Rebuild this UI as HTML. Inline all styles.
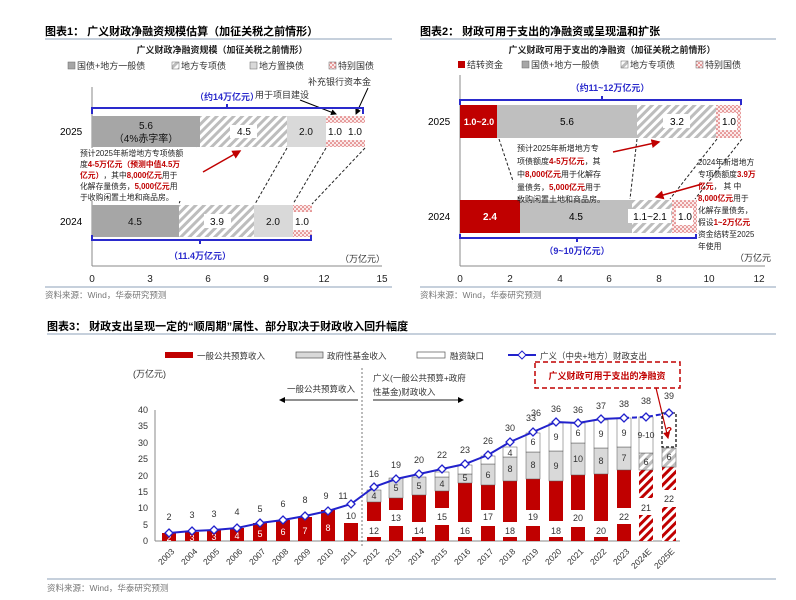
<!DOCTYPE html>
<html><head><meta charset="utf-8"><style>
body{margin:0;background:#fff}
svg{display:block;font-family:"Liberation Sans","Noto Sans CJK SC",sans-serif}
</style></head><body>
<svg width="796" height="600" viewBox="0 0 796 600" xmlns="http://www.w3.org/2000/svg">
<defs>
<pattern id="hg" width="6" height="6" patternUnits="userSpaceOnUse" patternTransform="rotate(45)"><rect width="6" height="6" fill="#fff"/><rect width="3" height="6" fill="#bdbdbd"/></pattern>
<pattern id="hr" width="6" height="6" patternUnits="userSpaceOnUse" patternTransform="rotate(45)"><rect width="6" height="6" fill="#fff"/><rect width="3" height="6" fill="#c00000"/></pattern>
<pattern id="dp" width="4" height="4" patternUnits="userSpaceOnUse"><rect width="4" height="4" fill="#fbeaea"/><circle cx="1" cy="1" r="0.8" fill="#d04040"/><circle cx="3" cy="3" r="0.8" fill="#d04040"/></pattern>
<marker id="ab" markerWidth="6" markerHeight="6" refX="5" refY="3" orient="auto"><path d="M0,0L6,3L0,6z" fill="#000"/></marker>
<marker id="ar" markerWidth="6" markerHeight="6" refX="5" refY="3" orient="auto"><path d="M0,0L6,3L0,6z" fill="#c00000"/></marker>
</defs>

<!-- ========== Chart 1 ========== -->
<text x="45" y="35" font-size="11" font-weight="bold">图表1： 广义财政净融资规模估算（加征关税之前情形）</text>
<line x1="45" y1="39" x2="392" y2="39" stroke="#8ea0b8" stroke-width="1"/>
<text x="222" y="53" font-size="9" text-anchor="middle" font-weight="bold" fill="#222">广义财政净融资规模（加征关税之前情形）</text>
<g font-size="9" fill="#333">
<rect x="68" y="62" width="7" height="7" fill="#a6a6a6" stroke="#666" stroke-width=".5"/><text x="77" y="69">国债+地方一般债</text>
<rect x="172" y="62" width="7" height="7" fill="url(#hg)" stroke="#666" stroke-width=".5"/><text x="181" y="69">地方专项债</text>
<rect x="250" y="62" width="7" height="7" fill="#d9d9d9" stroke="#666" stroke-width=".5"/><text x="259" y="69">地方置换债</text>
<rect x="329" y="62" width="7" height="7" fill="url(#dp)" stroke="#666" stroke-width=".5"/><text x="338" y="69">特别国债</text>
<text x="308" y="85">补充银行资本金</text>
<text x="255" y="98">用于项目建设</text>
</g>
<line x1="92" y1="87" x2="92" y2="266" stroke="#888"/>
<line x1="92" y1="266" x2="382" y2="266" stroke="#888"/>
<g font-size="10" fill="#222" text-anchor="middle">
<text x="92" y="282">0</text><text x="150" y="282">3</text><text x="208" y="282">6</text><text x="266" y="282">9</text><text x="324" y="282">12</text><text x="382" y="282">15</text>
</g>
<text x="340" y="262" font-size="9" fill="#333">（万亿元）</text>
<text x="60" y="135" font-size="10">2025</text>
<text x="60" y="225" font-size="10">2024</text>
<rect x="92" y="116" width="108" height="31" fill="#a6a6a6"/>
<rect x="200" y="116" width="87" height="31" fill="url(#hg)"/>
<rect x="287" y="116" width="39" height="31" fill="#d9d9d9"/>
<rect x="326" y="116" width="19" height="31" fill="url(#dp)"/><rect x="326" y="123" width="19" height="17" fill="#fff"/>
<rect x="345" y="116" width="20" height="31" fill="url(#dp)"/><rect x="345" y="123" width="20" height="17" fill="#fff"/>
<g font-size="10" text-anchor="middle" fill="#111">
<text x="146" y="129">5.6</text><text x="146" y="142">（4%赤字率）</text>
<rect x="230" y="125" width="27" height="13" fill="#fff"/><text x="244" y="135">4.5</text>
<text x="306" y="135">2.0</text><text x="335" y="135">1.0</text><text x="355" y="135">1.0</text>
</g>
<rect x="92" y="205" width="87" height="32" fill="#a6a6a6"/>
<rect x="179" y="205" width="75" height="32" fill="url(#hg)"/>
<rect x="254" y="205" width="39" height="32" fill="#d9d9d9"/>
<rect x="293" y="205" width="19" height="32" fill="url(#dp)"/><rect x="293" y="212" width="19" height="18" fill="#fff"/>
<g font-size="10" text-anchor="middle" fill="#111">
<text x="135" y="225">4.5</text>
<rect x="204" y="214" width="27" height="14" fill="#fff"/><text x="217" y="225">3.9</text>
<text x="273" y="225">2.0</text><text x="302" y="225">1.0</text>
</g>
<g stroke="#222" stroke-dasharray="3,2" fill="none">
<line x1="197" y1="148" x2="179" y2="204"/><line x1="287" y1="148" x2="255" y2="204"/>
<line x1="326" y1="148" x2="293" y2="204"/><line x1="365" y1="148" x2="312" y2="204"/>
</g>
<line x1="300" y1="100" x2="336" y2="114" stroke="#000" marker-end="url(#ab)"/>
<line x1="368" y1="88" x2="356" y2="114" stroke="#000" marker-end="url(#ab)"/>
<path d="M92,114V108H363V114M227,108V104" stroke="#2a2acc" stroke-width="2" fill="none"/>
<text x="227" y="100" font-size="9" fill="#2a2acc" text-anchor="middle" font-weight="bold">（约14万亿元）</text>
<path d="M92,235V240H311V235M200,240V244" stroke="#2a2acc" stroke-width="2" fill="none"/>
<text x="200" y="259" font-size="9" fill="#2a2acc" text-anchor="middle" font-weight="bold">（11.4万亿元）</text>
<rect x="78" y="148" width="120" height="53" fill="#fff"/>
<g font-size="7.8" fill="#222">
<text x="80" y="156">预计2025年新增地方专项债额</text>
<text x="80" y="167">度<tspan fill="#c00000" font-weight="bold">4-5万亿元（预测中值4.5万</tspan></text>
<text x="80" y="178"><tspan fill="#c00000" font-weight="bold">亿元）</tspan>，其中<tspan fill="#c00000" font-weight="bold">8,000亿元</tspan>用于</text>
<text x="80" y="189">化解存量债务，<tspan fill="#c00000" font-weight="bold">5,000亿元</tspan>用</text>
<text x="80" y="200">于收购闲置土地和商品房。</text>
</g>
<line x1="203" y1="172" x2="240" y2="151" stroke="#c00000" stroke-width="1.5" marker-end="url(#ar)"/>
<line x1="45" y1="287" x2="392" y2="287" stroke="#8ea0b8"/>
<text x="45" y="298" font-size="8.5" fill="#777">资料来源：Wind，华泰研究预测</text>

<!-- ========== Chart 2 ========== -->
<text x="420" y="35" font-size="11" font-weight="bold">图表2： 财政可用于支出的净融资或呈现温和扩张</text>
<line x1="420" y1="39" x2="776" y2="39" stroke="#8ea0b8"/>
<text x="612" y="53" font-size="9" text-anchor="middle" font-weight="bold" fill="#222">广义财政可用于支出的净融资（加征关税之前情形）</text>
<g font-size="9" fill="#333">
<rect x="458" y="61" width="7" height="7" fill="#c00000"/><text x="467" y="68">结转资金</text>
<rect x="522" y="61" width="7" height="7" fill="#a6a6a6" stroke="#666" stroke-width=".5"/><text x="531" y="68">国债+地方一般债</text>
<rect x="621" y="61" width="7" height="7" fill="url(#hg)" stroke="#666" stroke-width=".5"/><text x="630" y="68">地方专项债</text>
<rect x="696" y="61" width="7" height="7" fill="url(#dp)" stroke="#666" stroke-width=".5"/><text x="705" y="68">特别国债</text>
</g>
<line x1="460" y1="75" x2="460" y2="266" stroke="#888"/>
<line x1="460" y1="266" x2="765" y2="266" stroke="#888"/>
<g font-size="10" fill="#222" text-anchor="middle">
<text x="460" y="282">0</text><text x="510" y="282">2</text><text x="560" y="282">4</text><text x="609" y="282">6</text><text x="659" y="282">8</text><text x="709" y="282">10</text><text x="759" y="282">12</text>
</g>
<text x="735" y="261" font-size="9" fill="#333">（万亿元</text>
<text x="428" y="125" font-size="10">2025</text>
<text x="428" y="220" font-size="10">2024</text>
<rect x="460" y="105" width="37" height="33" fill="#c00000"/>
<rect x="497" y="105" width="140" height="33" fill="#bfbfbf"/>
<rect x="637" y="105" width="79" height="33" fill="url(#hg)"/>
<rect x="716" y="105" width="25" height="33" fill="url(#dp)"/><rect x="720" y="113" width="17" height="17" fill="#fff"/>
<g font-size="10" text-anchor="middle">
<text x="479" y="125" fill="#fff" font-weight="bold" font-size="9">1.0~2.0</text>
<text x="567" y="125">5.6</text>
<rect x="663" y="114" width="27" height="14" fill="#fff"/><text x="677" y="125">3.2</text>
<text x="729" y="125">1.0</text>
</g>
<rect x="460" y="200" width="60" height="33" fill="#c00000"/>
<rect x="520" y="200" width="112" height="33" fill="#bfbfbf"/>
<rect x="632" y="200" width="40" height="33" fill="url(#hg)"/>
<rect x="672" y="200" width="25" height="33" fill="url(#dp)"/><rect x="676" y="208" width="17" height="17" fill="#fff"/>
<g font-size="10" text-anchor="middle">
<text x="490" y="220" fill="#fff" font-weight="bold">2.4</text>
<text x="576" y="220">4.5</text>
<rect x="628" y="209" width="43" height="14" fill="#fff"/><text x="650" y="220">1.1~2.1</text>
<text x="685" y="220">1.0</text>
</g>
<g stroke="#222" stroke-dasharray="3,2" fill="none">
<line x1="499" y1="139" x2="519" y2="199"/><line x1="637" y1="139" x2="630" y2="199"/>
<line x1="717" y1="139" x2="670" y2="199"/><line x1="742" y1="139" x2="695" y2="199"/>
</g>
<path d="M460,105V100H741V105M602,100V96" stroke="#2a2acc" stroke-width="2" fill="none"/>
<text x="610" y="91" font-size="9" fill="#2a2acc" text-anchor="middle" font-weight="bold">（约11~12万亿元）</text>
<path d="M460,234V238H696V234M577,238V242" stroke="#2a2acc" stroke-width="2" fill="none"/>
<text x="577" y="254" font-size="9" fill="#2a2acc" text-anchor="middle" font-weight="bold">（9~10万亿元）</text>
<rect x="513" y="141" width="100" height="56" fill="#fff"/>
<g font-size="8" fill="#222">
<text x="517" y="151">预计2025年新增地方专</text>
<text x="517" y="164">项债额度<tspan fill="#c00000" font-weight="bold">4-5万亿元</tspan>，其</text>
<text x="517" y="177">中<tspan fill="#c00000" font-weight="bold">8,000亿元</tspan>用于化解存</text>
<text x="517" y="190">量债务，<tspan fill="#c00000" font-weight="bold">5,000亿元</tspan>用于</text>
<text x="517" y="202">收购闲置土地和商品房。</text>
</g>
<g font-size="7.8" fill="#222">
<text x="698" y="165">2024年新增地方</text>
<text x="698" y="177">专项债额度<tspan fill="#c00000" font-weight="bold">3.9万</tspan></text>
<text x="698" y="189"><tspan fill="#c00000" font-weight="bold">亿元</tspan>， 其 中</text>
<text x="698" y="201"><tspan fill="#c00000" font-weight="bold">8,000亿元</tspan>用于</text>
<text x="698" y="213">化解存量债务，</text>
<text x="698" y="225">假设<tspan fill="#c00000" font-weight="bold">1~2万亿元</tspan></text>
<text x="698" y="237">资金结转至2025</text>
<text x="698" y="249">年使用</text>
</g>
<line x1="613" y1="152" x2="659" y2="142" stroke="#c00000" stroke-width="1.5" marker-end="url(#ar)"/>
<line x1="702" y1="184" x2="656" y2="197" stroke="#c00000" stroke-width="1.5" marker-end="url(#ar)"/>
<line x1="420" y1="287" x2="776" y2="287" stroke="#8ea0b8"/>
<text x="420" y="298" font-size="8.5" fill="#777">资料来源：Wind，华泰研究预测</text>

<!-- ========== Chart 3 ========== -->
<text x="47" y="330" font-size="11" font-weight="bold">图表3： 财政支出呈现一定的“顺周期”属性、部分取决于财政收入回升幅度</text>
<line x1="47" y1="334" x2="776" y2="334" stroke="#8ea0b8"/>
<g font-size="8.5" fill="#333">
<rect x="165" y="352" width="28" height="6" fill="#c00000"/><text x="197" y="359">一般公共预算收入</text>
<rect x="296" y="352" width="27" height="6" fill="#d9d9d9" stroke="#555" stroke-width=".7"/><text x="327" y="359">政府性基金收入</text>
<rect x="417" y="352" width="28" height="6" fill="#fff" stroke="#555" stroke-width=".7"/><text x="450" y="359">融资缺口</text>
<line x1="508" y1="355" x2="536" y2="355" stroke="#2222cc" stroke-width="2"/><path d="M522,351L526,355L522,359L518,355z" fill="#fff" stroke="#2222cc"/><text x="540" y="359">广义（中央+地方）财政支出</text>
<text x="133" y="377" font-size="9">(万亿元)</text>
<text x="355" y="392" text-anchor="end">一般公共预算收入</text>
<text x="373" y="381">广义(一般公共预算+政府</text>
<text x="373" y="395">性基金)财政收入</text>
</g>
<line x1="358" y1="400" x2="280" y2="400" stroke="#222" marker-end="url(#ab)"/>
<line x1="373" y1="400" x2="463" y2="400" stroke="#222" marker-end="url(#ab)"/>
<line x1="362" y1="368" x2="362" y2="548" stroke="#777" stroke-dasharray="2,2"/>
<rect x="535" y="362" width="145" height="26" fill="none" stroke="#c00000" stroke-width="1.5" stroke-dasharray="5,3"/>
<text x="607" y="379" font-size="9" fill="#c00000" font-weight="bold" text-anchor="middle">广义财政可用于支出的净融资</text>
<line x1="656" y1="388" x2="668" y2="438" stroke="#c00000" stroke-width="1.2" marker-end="url(#ar)"/>
<line x1="155" y1="410" x2="155" y2="541" stroke="#888"/>
<line x1="155" y1="541" x2="680" y2="541" stroke="#888"/>
<g font-size="9" fill="#333" text-anchor="end">
<text x="148" y="544">0</text><text x="148" y="528">5</text><text x="148" y="511">10</text><text x="148" y="495">15</text><text x="148" y="479">20</text><text x="148" y="462">25</text><text x="148" y="446">30</text><text x="148" y="429">35</text><text x="148" y="413">40</text>
</g>
<g fill="#c00000">
<rect x="162" y="533" width="14" height="8"/><rect x="185" y="532" width="14" height="9"/><rect x="207" y="530" width="14" height="11"/><rect x="230" y="528" width="14" height="13"/><rect x="253" y="523" width="14" height="18"/><rect x="276" y="520" width="14" height="21"/><rect x="298" y="517" width="14" height="24"/><rect x="321" y="510" width="14" height="31"/><rect x="344" y="523" width="14" height="18"/>
</g>
<g font-size="9" fill="#fff" text-anchor="middle">
<text x="169" y="541">2</text><text x="192" y="541">3</text><text x="214" y="540">3</text><text x="237" y="539">4</text><text x="260" y="537">5</text><text x="283" y="535">6</text><text x="305" y="534">7</text><text x="328" y="531">8</text>
</g>
<g stroke="#555" stroke-width=".5">
<rect x="367" y="537" width="14" height="4" fill="#c00000" stroke="none"/><rect x="367" y="502" width="14" height="19" fill="#c00000" stroke="none"/><rect x="367" y="490" width="14" height="12" fill="#d9d9d9"/>
<rect x="389" y="526" width="14" height="15" fill="#c00000" stroke="none"/><rect x="389" y="498" width="14" height="12" fill="#c00000" stroke="none"/><rect x="389" y="478" width="14" height="20" fill="#d9d9d9"/>
<rect x="412" y="537" width="14" height="4" fill="#c00000" stroke="none"/><rect x="412" y="495" width="14" height="27" fill="#c00000" stroke="none"/><rect x="412" y="477" width="14" height="18" fill="#d9d9d9"/>
<rect x="435" y="525" width="14" height="16" fill="#c00000" stroke="none"/><rect x="435" y="491" width="14" height="17" fill="#c00000" stroke="none"/><rect x="435" y="477" width="14" height="14" fill="#d9d9d9"/><rect x="435" y="472" width="14" height="5" fill="#fff"/>
<rect x="458" y="537" width="14" height="4" fill="#c00000" stroke="none"/><rect x="458" y="483" width="14" height="39" fill="#c00000" stroke="none"/><rect x="458" y="474" width="14" height="9" fill="#d9d9d9"/><rect x="458" y="465" width="14" height="9" fill="#fff"/>
<rect x="481" y="526" width="14" height="15" fill="#c00000" stroke="none"/><rect x="481" y="485" width="14" height="25" fill="#c00000" stroke="none"/><rect x="481" y="464" width="14" height="21" fill="#d9d9d9"/><rect x="481" y="456" width="14" height="8" fill="#fff"/>
<rect x="503" y="537" width="14" height="4" fill="#c00000" stroke="none"/><rect x="503" y="481" width="14" height="41" fill="#c00000" stroke="none"/><rect x="503" y="457" width="14" height="24" fill="#d9d9d9"/><rect x="503" y="447" width="14" height="10" fill="#fff"/>
<rect x="526" y="526" width="14" height="15" fill="#c00000" stroke="none"/><rect x="526" y="479" width="14" height="31" fill="#c00000" stroke="none"/><rect x="526" y="452" width="14" height="27" fill="#d9d9d9"/><rect x="526" y="433" width="14" height="19" fill="#fff"/>
<rect x="549" y="537" width="14" height="4" fill="#c00000" stroke="none"/><rect x="549" y="481" width="14" height="40" fill="#c00000" stroke="none"/><rect x="549" y="451" width="14" height="30" fill="#d9d9d9"/><rect x="549" y="423" width="14" height="28" fill="#fff"/>
<rect x="571" y="527" width="14" height="14" fill="#c00000" stroke="none"/><rect x="571" y="475" width="14" height="35" fill="#c00000" stroke="none"/><rect x="571" y="443" width="14" height="32" fill="#d9d9d9"/><rect x="571" y="423" width="14" height="20" fill="#fff"/>
<rect x="594" y="537" width="14" height="4" fill="#c00000" stroke="none"/><rect x="594" y="474" width="14" height="47" fill="#c00000" stroke="none"/><rect x="594" y="448" width="14" height="26" fill="#d9d9d9"/><rect x="594" y="420" width="14" height="28" fill="#fff"/>
<rect x="617" y="524" width="14" height="17" fill="#c00000" stroke="none"/><rect x="617" y="470" width="14" height="38" fill="#c00000" stroke="none"/><rect x="617" y="447" width="14" height="23" fill="#d9d9d9"/><rect x="617" y="418" width="14" height="29" fill="#fff"/>
<rect x="639" y="515" width="14" height="26" fill="url(#hr)" stroke="none"/><rect x="639" y="470" width="14" height="28" fill="url(#hr)" stroke="none"/><rect x="639" y="453" width="14" height="17" fill="url(#hg)"/><rect x="639" y="417" width="14" height="36" fill="#fff"/>
<rect x="662" y="507" width="14" height="34" fill="url(#hr)" stroke="none"/><rect x="662" y="467" width="14" height="23" fill="url(#hr)" stroke="none"/><rect x="662" y="448" width="14" height="19" fill="url(#hg)"/>
</g>
<rect x="662" y="413" width="14" height="34" fill="none" stroke="#111" stroke-width="1.3" stroke-dasharray="3,2"/>
<text x="669" y="434" font-size="10" fill="#c00000" font-weight="bold" text-anchor="middle">?</text>
<g font-size="9" fill="#333" text-anchor="middle">
<text x="374" y="534">12</text><text x="396" y="521">13</text><text x="419" y="534">14</text><text x="442" y="520">15</text><text x="465" y="534">16</text><text x="488" y="520">17</text><text x="510" y="534">18</text><text x="533" y="520">19</text><text x="556" y="534">18</text><text x="578" y="521">20</text><text x="601" y="534">20</text><text x="624" y="520">22</text><text x="646" y="511">21</text><text x="669" y="502">22</text>
<text x="351" y="519">10</text>
<text x="374" y="499">4</text><text x="396" y="491">5</text><text x="419" y="489">5</text><text x="442" y="487">4</text><text x="465" y="481">5</text><text x="488" y="478">6</text><text x="510" y="472">8</text><text x="533" y="468">8</text><text x="556" y="469">9</text><text x="578" y="462">10</text><text x="601" y="464">8</text><text x="624" y="461">7</text><text x="646" y="465">6</text><text x="669" y="460">6</text>
<text x="510" y="456">4</text><text x="533" y="445">6</text><text x="556" y="440">9</text><text x="578" y="436">6</text><text x="601" y="437">9</text><text x="624" y="436">9</text><text x="646" y="438" font-size="8.5">9-10</text>
</g>
<polyline points="169,533 192,531 214,530 237,528 260,523 283,520 305,516 328,511 351,504 374,487 396,479 419,474 442,469 465,464 488,455 510,442 533,432 556,422 578,423 601,419 624,418" fill="none" stroke="#2222cc" stroke-width="2"/>
<polyline points="624,418 646,417 669,413" fill="none" stroke="#2222cc" stroke-width="2" stroke-dasharray="5,3"/>
<g fill="#fff" stroke="#2222cc" stroke-width="1.3">
<path d="M169,529l4,4l-4,4l-4,-4z"/><path d="M192,527l4,4l-4,4l-4,-4z"/><path d="M214,526l4,4l-4,4l-4,-4z"/><path d="M237,524l4,4l-4,4l-4,-4z"/><path d="M260,519l4,4l-4,4l-4,-4z"/><path d="M283,516l4,4l-4,4l-4,-4z"/><path d="M305,512l4,4l-4,4l-4,-4z"/><path d="M328,507l4,4l-4,4l-4,-4z"/><path d="M351,500l4,4l-4,4l-4,-4z"/><path d="M374,483l4,4l-4,4l-4,-4z"/><path d="M396,475l4,4l-4,4l-4,-4z"/><path d="M419,470l4,4l-4,4l-4,-4z"/><path d="M442,465l4,4l-4,4l-4,-4z"/><path d="M465,460l4,4l-4,4l-4,-4z"/><path d="M488,451l4,4l-4,4l-4,-4z"/><path d="M510,438l4,4l-4,4l-4,-4z"/><path d="M533,428l4,4l-4,4l-4,-4z"/><path d="M556,418l4,4l-4,4l-4,-4z"/><path d="M578,419l4,4l-4,4l-4,-4z"/><path d="M601,415l4,4l-4,4l-4,-4z"/><path d="M624,414l4,4l-4,4l-4,-4z"/><path d="M646,413l4,4l-4,4l-4,-4z"/><path d="M669,409l4,4l-4,4l-4,-4z"/>
</g>
<g font-size="9" fill="#333" text-anchor="middle">
<text x="169" y="520">2</text><text x="192" y="518">3</text><text x="214" y="517">3</text><text x="237" y="515">4</text><text x="260" y="512">5</text><text x="283" y="507">6</text><text x="305" y="503">8</text><text x="326" y="499">9</text><text x="343" y="499">11</text>
<text x="374" y="477">16</text><text x="396" y="468">19</text><text x="419" y="463">20</text><text x="442" y="458">22</text><text x="465" y="453">23</text><text x="488" y="444">26</text><text x="510" y="431">30</text><text x="531" y="421">33</text><text x="536" y="416">36</text><text x="556" y="412">36</text><text x="578" y="413">36</text><text x="601" y="409">37</text><text x="624" y="407">38</text><text x="646" y="404">38</text><text x="669" y="399">39</text>
</g>
<g font-size="8.5" fill="#333" text-anchor="end">
<text transform="translate(175,552) rotate(-45)">2003</text><text transform="translate(198,552) rotate(-45)">2004</text><text transform="translate(220,552) rotate(-45)">2005</text><text transform="translate(243,552) rotate(-45)">2006</text><text transform="translate(266,552) rotate(-45)">2007</text><text transform="translate(289,552) rotate(-45)">2008</text><text transform="translate(311,552) rotate(-45)">2009</text><text transform="translate(334,552) rotate(-45)">2010</text><text transform="translate(357,552) rotate(-45)">2011</text><text transform="translate(380,552) rotate(-45)">2012</text><text transform="translate(402,552) rotate(-45)">2013</text><text transform="translate(425,552) rotate(-45)">2014</text><text transform="translate(448,552) rotate(-45)">2015</text><text transform="translate(471,552) rotate(-45)">2016</text><text transform="translate(494,552) rotate(-45)">2017</text><text transform="translate(516,552) rotate(-45)">2018</text><text transform="translate(539,552) rotate(-45)">2019</text><text transform="translate(562,552) rotate(-45)">2020</text><text transform="translate(584,552) rotate(-45)">2021</text><text transform="translate(607,552) rotate(-45)">2022</text><text transform="translate(630,552) rotate(-45)">2023</text><text transform="translate(652,552) rotate(-45)">2024E</text><text transform="translate(675,552) rotate(-45)">2025E</text>
</g>
<line x1="47" y1="579" x2="776" y2="579" stroke="#8ea0b8"/>
<text x="47" y="591" font-size="8.5" fill="#777">资料来源：Wind，华泰研究预测</text>
</svg>
</body></html>
